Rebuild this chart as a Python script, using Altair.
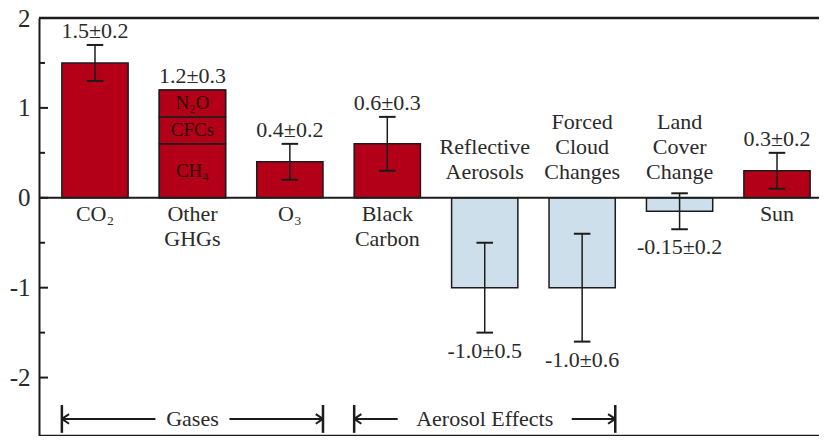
import altair as alt
import pandas as pd

# ---------------- data ----------------
categories = ["CO₂", "Other\nGHGs", "O₃", "Black\nCarbon", "Reflective\nAerosols",
              "Forced\nCloud\nChanges", "Land\nCover\nChange", "Sun"]
forcing = [1.5, 1.2, 0.4, 0.6, -1.0, -1.0, -0.15, 0.3]
uncertainty = [0.2, 0.3, 0.2, 0.3, 0.5, 0.6, 0.2, 0.2]
value_labels = ["1.5±0.2", "1.2±0.3", "0.4±0.2", "0.6±0.3", "-1.0±0.5",
                "-1.0±0.6", "-0.15±0.2", "0.3±0.2"]
has_errorbar = [True, False, True, True, True, True, True, True]

ghg_parts = ["CH₄", "CFCs", "N₂O"]
ghg_part_values = [0.6, 0.3, 0.3]
ghg_index = 1

groups = ["Gases", "Aerosol Effects"]
group_first = [0, 3]
group_last = [2, 5]

major_ticks = [-2, -1, 0, 1, 2]
minor_ticks = [-1.5, -0.5, 0.5, 1.5]
y_min, y_max = -2.65, 2.0

# ---------------- styling ----------------
RED = "#B30018"
BLUE = "#CEDFEC"
INK = "#1c1c1c"
TXT = "#2a2a2a"
FONT = "Liberation Serif"
HW = 0.34      # half bar width (category units)
CAP = 0.085    # half cap width
PX = 97.43     # pixels per category unit
LH = 25        # line height of category labels

rows = []
for i, (c, v, u, lab, e) in enumerate(zip(categories, forcing, uncertainty, value_labels, has_errorbar)):
    pos = v > 0
    rows.append(dict(
        i=i, cat=c, v=v, zero=0.0, x0=i - HW, x1=i + HW, lo=v - u, hi=v + u,
        cl=i - CAP, cr=i + CAP, lab=lab, sign="pos" if pos else "neg", err=e,
        laby=(v + u if e else v) if pos else v - u, nl=c.count("\n") + 1,
    ))
bars = pd.DataFrame(rows)
errs = bars[bars["err"]]
pos_df = bars[bars["sign"] == "pos"]
neg_df = bars[bars["sign"] == "neg"]

seg = []
acc = 0.0
for name, val in zip(ghg_parts, ghg_part_values):
    seg.append(dict(i=ghg_index, x0=ghg_index - HW, x1=ghg_index + HW, b=acc, t=acc + val,
                    mid=acc + val / 2, name=name))
    acc += val
segs = pd.DataFrame(seg)

arrow_y = -2.46
grows = []
for g, f, l in zip(groups, group_first, group_last):
    left, right = f - HW, l + HW
    mid = (left + right) / 2
    gap = (len(g) * 5.0 + 12) / PX
    grows.append(dict(g=g, left=left, right=right, mid=mid, la=mid - gap, rb=mid + gap,
                      y=arrow_y, ylo=arrow_y - 0.155, yhi=arrow_y + 0.155))
grp = pd.DataFrame(grows)

xs = alt.Scale(domain=[-56 / PX, (780 - 56) / PX], nice=False, zero=False)
ys = alt.Scale(domain=[y_min, y_max], nice=False, zero=False)

yaxis = alt.Axis(values=major_ticks, grid=False, ticks=False, domain=True,
                 domainColor=INK, domainWidth=2, labelFont=FONT, labelFontSize=25,
                 labelColor=TXT, labelPadding=9, title=None,
                 labelExpr="datum.value < 0 ? '-' + format(abs(datum.value), 'd') : format(datum.value, 'd')")

base = alt.Chart(bars)

bar_layer = base.mark_rect(stroke=INK, strokeWidth=1.5).encode(
    x=alt.X("x0:Q", scale=xs, axis=None), x2="x1:Q",
    y=alt.Y("zero:Q", scale=ys, axis=yaxis), y2="v:Q",
    color=alt.Color("sign:N", scale=alt.Scale(domain=["pos", "neg"], range=[RED, BLUE]), legend=None),
)

seg_layer = alt.Chart(segs).mark_rect(fill=RED, stroke=INK, strokeWidth=1.5).encode(
    x=alt.X("x0:Q", scale=xs), x2="x1:Q", y=alt.Y("b:Q", scale=ys), y2="t:Q")
seg_text = alt.Chart(segs).mark_text(font=FONT, fontSize=19, color="#2a0505", baseline="middle").encode(
    x=alt.X("i:Q", scale=xs), y=alt.Y("mid:Q", scale=ys), text="name:N")

hlines = pd.DataFrame({"y": [0.0, y_max, y_min], "w": [2, 2.5, 2.5]})
hline_layer = alt.Chart(hlines).mark_rule(color=INK).encode(
    y=alt.Y("y:Q", scale=ys), strokeWidth=alt.StrokeWidth("w:Q", scale=None, legend=None))

maj = alt.Chart(pd.DataFrame({"t": major_ticks})).mark_rule(color=INK, strokeWidth=2).encode(
    x=alt.value(0), x2=alt.value(9), y=alt.Y("t:Q", scale=ys))
mino = alt.Chart(pd.DataFrame({"t": minor_ticks})).mark_rule(color=INK, strokeWidth=2).encode(
    x=alt.value(0), x2=alt.value(6), y=alt.Y("t:Q", scale=ys))

err_v = alt.Chart(errs).mark_rule(color=INK, strokeWidth=1.5).encode(
    x=alt.X("i:Q", scale=xs), y=alt.Y("lo:Q", scale=ys), y2="hi:Q")
cap_lo = alt.Chart(errs).mark_rule(color=INK, strokeWidth=2).encode(
    x=alt.X("cl:Q", scale=xs), x2="cr:Q", y=alt.Y("lo:Q", scale=ys))
cap_hi = alt.Chart(errs).mark_rule(color=INK, strokeWidth=2).encode(
    x=alt.X("cl:Q", scale=xs), x2="cr:Q", y=alt.Y("hi:Q", scale=ys))

val_pos = alt.Chart(pos_df).mark_text(font=FONT, fontSize=22, color=TXT, baseline="alphabetic", dy=-7).encode(
    x=alt.X("i:Q", scale=xs), y=alt.Y("laby:Q", scale=ys), text="lab:N")
val_neg = alt.Chart(neg_df).mark_text(font=FONT, fontSize=22, color=TXT, baseline="top", dy=8).encode(
    x=alt.X("i:Q", scale=xs), y=alt.Y("laby:Q", scale=ys), text="lab:N")

cat_pos = alt.Chart(pos_df).mark_text(font=FONT, fontSize=22, color=TXT, baseline="top", dy=6,
                                      lineBreak="\n", lineHeight=LH).encode(
    x=alt.X("i:Q", scale=xs), y=alt.Y("zero:Q", scale=ys), text="cat:N")

cat_neg_layers = []
for n in sorted(neg_df["nl"].unique()):
    sub = neg_df[neg_df["nl"] == n]
    cat_neg_layers.append(
        alt.Chart(sub).mark_text(font=FONT, fontSize=22, color=TXT, baseline="alphabetic",
                                 dy=-19 - LH * (int(n) - 1), lineBreak="\n", lineHeight=LH).encode(
            x=alt.X("i:Q", scale=xs), y=alt.Y("zero:Q", scale=ys), text="cat:N"))

gb = alt.Chart(grp)
g_lbar = gb.mark_rule(color=INK, strokeWidth=2.5).encode(
    x=alt.X("left:Q", scale=xs), y=alt.Y("ylo:Q", scale=ys), y2="yhi:Q")
g_rbar = gb.mark_rule(color=INK, strokeWidth=2.5).encode(
    x=alt.X("right:Q", scale=xs), y=alt.Y("ylo:Q", scale=ys), y2="yhi:Q")
g_lline = gb.mark_rule(color=INK, strokeWidth=2).encode(
    x=alt.X("left:Q", scale=xs), x2="la:Q", y=alt.Y("y:Q", scale=ys))
g_rline = gb.mark_rule(color=INK, strokeWidth=2).encode(
    x=alt.X("rb:Q", scale=xs), x2="right:Q", y=alt.Y("y:Q", scale=ys))
g_lhead = gb.mark_point(shape="M0,0L1.8,-1.2M0,0L1.8,1.2", filled=False, stroke=INK,
                        strokeWidth=2, size=64, opacity=1).encode(
    x=alt.X("left:Q", scale=xs), y=alt.Y("y:Q", scale=ys))
g_rhead = gb.mark_point(shape="M0,0L-1.8,-1.2M0,0L-1.8,1.2", filled=False, stroke=INK,
                        strokeWidth=2, size=64, opacity=1).encode(
    x=alt.X("right:Q", scale=xs), y=alt.Y("y:Q", scale=ys))
g_text = gb.mark_text(font=FONT, fontSize=22, color=TXT, baseline="middle").encode(
    x=alt.X("mid:Q", scale=xs), y=alt.Y("y:Q", scale=ys), text="g:N")

chart = alt.layer(
    bar_layer, seg_layer, seg_text, hline_layer, maj, mino,
    err_v, cap_lo, cap_hi, val_pos, val_neg, cat_pos, *cat_neg_layers,
    g_lbar, g_rbar, g_lline, g_rline, g_lhead, g_rhead, g_text,
).properties(
    width=780, height=418,
    autosize=alt.AutoSizeParams(type="none"),
    padding={"left": 31, "top": 10, "right": 0, "bottom": 0},
).configure_view(stroke=None)

chart.save("out.html", embed_options={"renderer": "svg", "actions": False})
